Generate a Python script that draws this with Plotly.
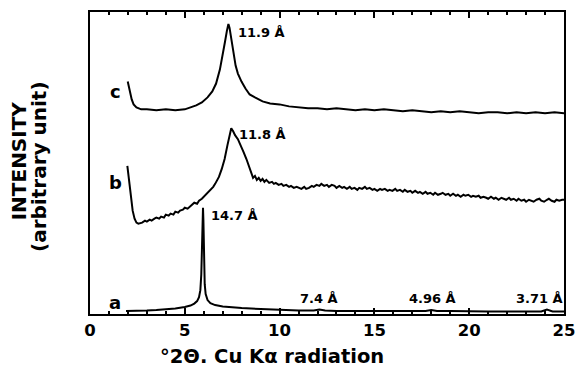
import plotly.graph_objects as go

# Curve a (sample a), intensity in arbitrary units
a_x = [1.9, 2.5, 3.0, 3.5, 4.0, 4.5, 5.0, 5.3, 5.5, 5.65, 5.75, 5.82, 5.87, 5.91, 5.94, 5.96,
       5.98, 6.01, 6.05, 6.1, 6.2, 6.35, 6.6, 7.0, 7.5, 8.0, 9.0, 10.0, 11.0, 11.8, 12.1, 12.4,
       13.0, 14.0, 15.0, 16.0, 17.0, 17.7, 18.0, 18.3, 19.0, 20.0, 21.0, 22.0, 23.0, 23.8, 24.1,
       24.4, 25.0]
a_y = [3, 3, 3.5, 4, 4.5, 5.5, 7, 8.5, 10.5, 13, 17, 24, 40, 70, 100, 107,
       95, 60, 30, 20, 14, 11, 9, 7.5, 6.5, 6, 5, 4, 3.5, 3.5, 4.5, 3.5,
       3, 3, 3, 3, 3, 3, 4, 3, 3, 2.5, 2.5, 2.5, 2.5, 2.5, 4.5,
       2.5, 2.5]

# Curve b
b_x = [1.97, 2.05, 2.15, 2.25, 2.35, 2.45, 2.55, 2.75, 2.9, 3.0, 3.15, 3.25, 3.4, 3.5, 3.65,
       3.75, 3.9, 4.0, 4.15, 4.25, 4.4, 4.5, 4.65, 4.75, 4.9, 5.0, 5.15, 5.25, 5.4, 5.5, 5.65,
       5.75, 5.9, 6.0, 6.1, 6.2, 6.3, 6.4, 6.5, 6.6, 6.7, 6.8, 6.95, 7.1, 7.25, 7.35, 7.45,
       7.55, 7.65, 7.8, 7.95, 8.1, 8.25, 8.4, 8.5, 8.6, 8.7, 8.8, 8.9, 9.0, 9.1, 9.2, 9.3,
       9.45, 9.6, 9.7, 9.8, 9.95, 10.1, 10.2, 10.35, 10.5, 10.6, 10.75, 10.9, 11.0, 11.15, 11.3,
       11.4, 11.55, 11.7, 11.8, 11.95, 12.1, 12.2, 12.35, 12.5, 12.6, 12.75, 12.9, 13.0, 13.15,
       13.3, 13.4, 13.55, 13.7, 13.8, 13.95, 14.1, 14.2, 14.35, 14.5, 14.6, 14.75, 14.9, 15.0,
       15.15, 15.3, 15.4, 15.55, 15.7, 15.8, 15.95, 16.1, 16.2, 16.35, 16.5, 16.6, 16.75, 16.9,
       17.0, 17.15, 17.3, 17.4, 17.55, 17.7, 17.8, 17.95, 18.1, 18.2, 18.35, 18.5, 18.6, 18.75,
       18.9, 19.0, 19.15, 19.3, 19.4, 19.55, 19.7, 19.8, 19.95, 20.1, 20.2, 20.35, 20.5, 20.6,
       20.75, 20.9, 21.0, 21.15, 21.3, 21.4, 21.55, 21.7, 21.8, 21.95, 22.1, 22.2, 22.35, 22.5,
       22.6, 22.75, 22.9, 23.0, 23.15, 23.3, 23.4, 23.55, 23.7, 23.8, 23.95, 24.1, 24.2, 24.35,
       24.5, 24.6, 24.75, 24.9, 25.0]
b_y = [149, 135, 118, 104, 96, 92, 91, 92, 94, 93, 95, 94, 96, 97, 96,
       98, 97, 100, 99, 101, 100, 103, 102, 104, 105, 107, 106, 108, 110, 112, 111,
       114, 116, 118, 120, 121, 124, 126, 128, 131, 134, 138, 146, 156, 170, 180, 187,
       184, 180, 176, 170, 163, 156, 148, 142, 137, 139, 135, 137, 134, 136, 133, 135,
       132, 133, 131, 132, 130, 131, 129, 130, 128, 129, 127, 128, 127, 126, 128,
       126, 127, 129, 128, 130, 129, 131, 129, 130, 128, 130, 129, 127, 129,
       127, 128, 126, 128, 126, 127, 125, 127, 126, 128, 126, 127, 125, 126,
       124, 126, 125, 126, 124, 125, 124, 126, 124, 125, 123, 125, 123, 124,
       122, 124, 122, 123, 121, 123, 121, 122, 120, 122, 120, 121, 122, 120,
       121, 119, 121, 119, 120, 118, 120, 119, 120, 118, 119, 118, 119, 117,
       118, 117, 116, 118, 116, 117, 115, 117, 116, 115, 117, 115, 116, 114,
       116, 114, 115, 113, 115, 114, 113, 115, 116, 114, 113, 115, 116, 114,
       113, 115, 114, 115, 115]

# Curve c
c_x = [1.99, 2.1, 2.2, 2.3, 2.45, 2.7, 3.0, 3.5, 4.0, 4.5, 5.0, 5.3, 5.6, 5.9, 6.2, 6.45,
       6.65, 6.85, 7.0, 7.12, 7.22, 7.3, 7.36, 7.45, 7.56, 7.68, 7.8, 7.99, 8.2, 8.42, 8.7,
       9.1, 9.5, 10.0, 10.5, 11.0, 11.5, 12.0, 12.5, 13.0, 13.5, 14.0, 14.5, 15.0, 15.5, 16.0,
       16.5, 17.0, 17.5, 18.0, 18.5, 19.0, 19.5, 20.0, 20.5, 21.0, 21.5, 22.0, 22.5, 23.0,
       23.5, 24.0, 24.5, 25.0]
c_y = [234, 224, 216, 211, 208, 206, 206, 205, 206, 205, 206, 208, 210, 213, 218, 224,
       232, 246, 260, 274, 285, 292, 288, 278, 264, 250, 242, 234, 227, 221, 218,
       214, 212, 211, 209, 208, 207, 207, 206, 207, 206, 205, 206, 205, 206, 205,
       204, 205, 204, 203, 204, 203, 204, 203, 202, 203, 203, 202, 203, 202,
       203, 202, 203, 202]

curve_labels = ["a", "b", "c"]
curve_label_y = [12, 132, 224]

peak_labels = ["14.7 Å", "11.8 Å", "11.9 Å", "7.4 Å", "4.96 Å", "3.71 Å"]
peak_label_x = [6.26, 7.73, 7.69, 10.98, 16.7, 22.34]
peak_label_y = [99, 181, 283, 16, 16, 16]

x_ticks = [0, 5, 10, 15, 20, 25]

FONT = "DejaVu Sans"

fig = go.Figure()
for xs, ys in [(a_x, a_y), (b_x, b_y), (c_x, c_y)]:
    fig.add_trace(go.Scatter(x=xs, y=ys, mode="lines",
                             line=dict(color="black", width=2), showlegend=False))

for lab, ly in zip(curve_labels, curve_label_y):
    fig.add_annotation(x=1.33, y=ly, text=lab, showarrow=False, xanchor="center",
                       yanchor="middle", font=dict(family=FONT, size=18, color="black", weight="bold"))

for lab, lx, ly in zip(peak_labels, peak_label_x, peak_label_y):
    fig.add_annotation(x=lx, y=ly, text=lab, showarrow=False, xanchor="left",
                       yanchor="middle", font=dict(family=FONT, size=13, color="black", weight="bold"))

# y-axis title (two lines)
fig.add_annotation(xref="paper", yref="paper", x=(18 - 90) / 483, y=(314 - 160) / 304, text="INTENSITY",
                   textangle=-90, showarrow=False, xanchor="center", yanchor="middle",
                   font=dict(family=FONT, size=20, color="black", weight="bold"))
fig.add_annotation(xref="paper", yref="paper", x=(38 - 90) / 483, y=(314 - 165) / 304, text="(arbitrary unit)",
                   textangle=-90, showarrow=False, xanchor="center", yanchor="middle",
                   font=dict(family=FONT, size=20, color="black", weight="bold"))
# x-axis title
fig.add_annotation(xref="paper", yref="paper", x=(275 - 90) / 483, y=-(357 - 314) / 304,
                   text="°2Θ. Cu Kα radiation", showarrow=False, xanchor="center",
                   yanchor="middle", font=dict(family=FONT, size=19.5, color="black", weight="bold"))

fig.update_layout(
    width=585, height=374,
    margin=dict(l=90, r=12, t=10, b=60),
    paper_bgcolor="white", plot_bgcolor="white",
    xaxis=dict(range=[0, 25], tickvals=x_ticks, ticks="inside", ticklen=6, tickwidth=1.5,
               tickcolor="black", showline=True, linecolor="black", linewidth=2,
               mirror="allticks", showgrid=False, zeroline=False,
               minor=dict(dtick=1, ticks="inside", ticklen=3, tickcolor="black", showgrid=False),
               tickfont=dict(family=FONT, size=16.5, color="black", weight="bold")),
    yaxis=dict(range=[0, 304], showticklabels=False, ticks="", showline=True,
               linecolor="black", linewidth=2, mirror=True, showgrid=False, zeroline=False),
)

fig.write_html("out.html")
